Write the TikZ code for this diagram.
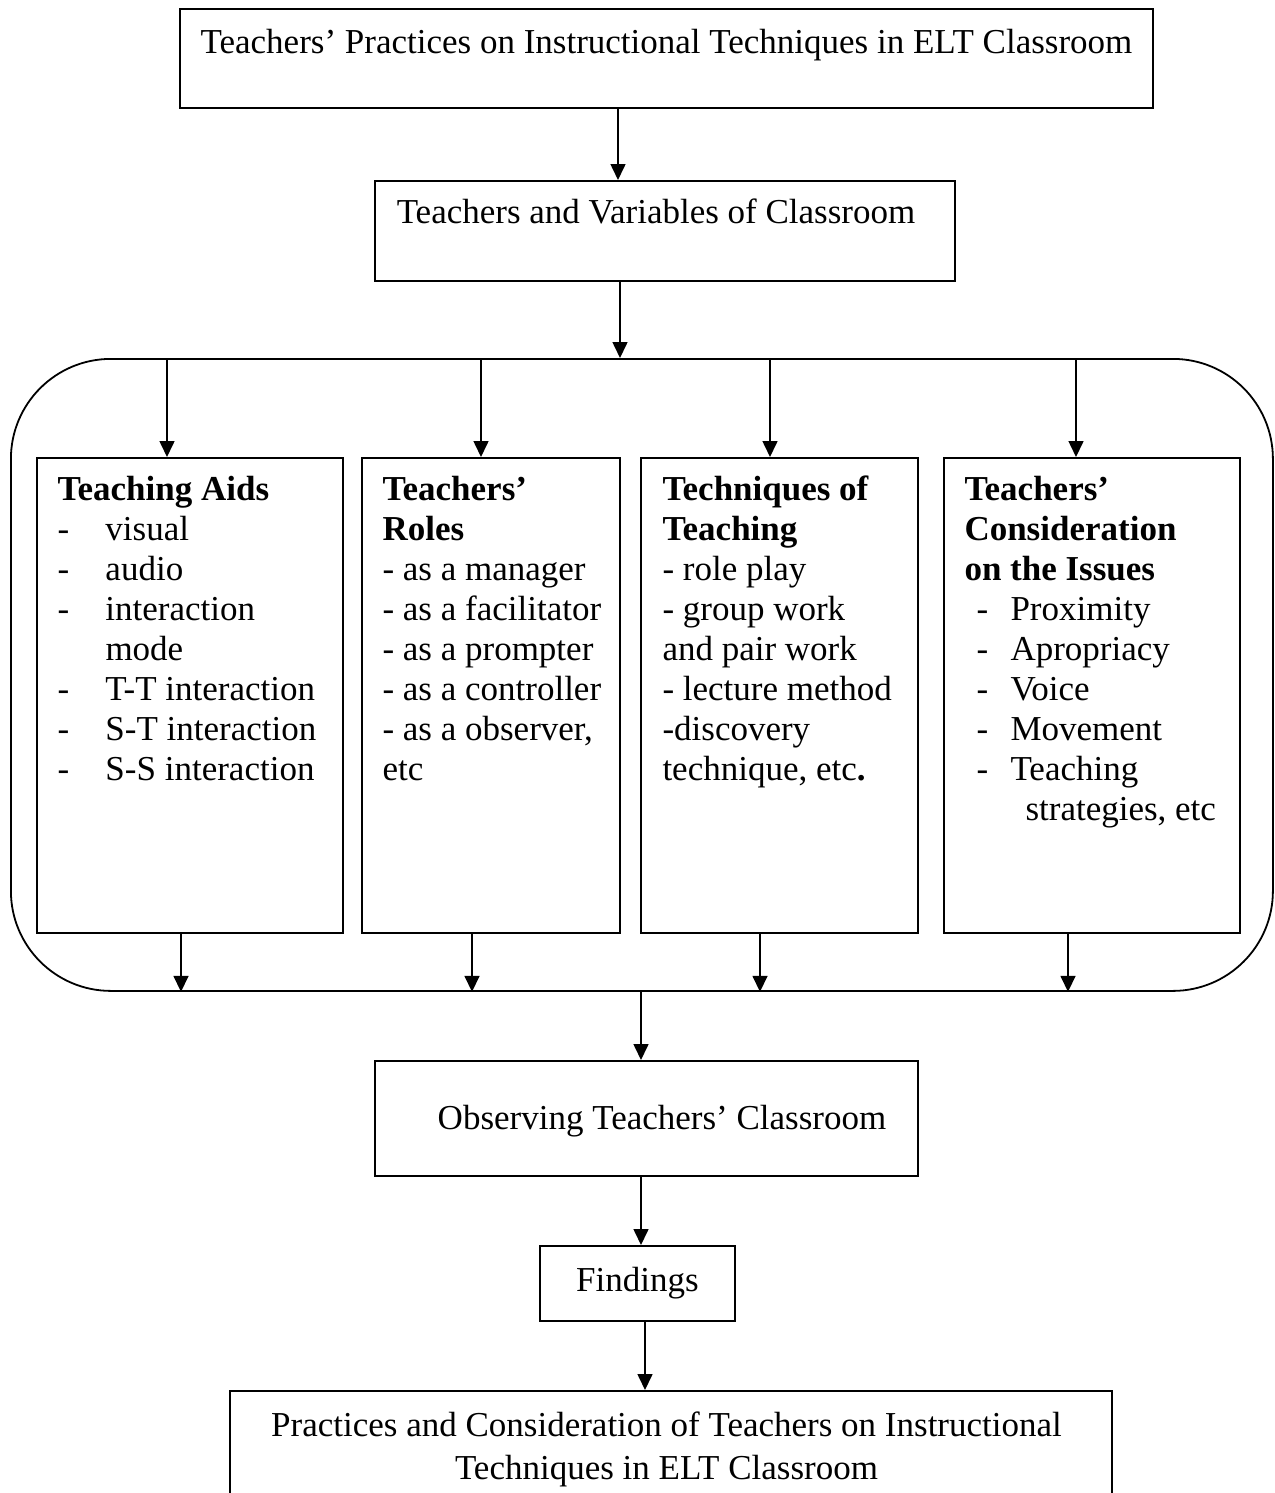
\documentclass[tikz,border=0pt]{standalone}
\usepackage{fontspec}
\setmainfont{Liberation Serif}
\usetikzlibrary{arrows.meta, positioning}
\newcommand{\dashitem}[1]{\makebox[24pt][l]{-}#1}
\newcommand{\hangitem}[1]{\hspace*{24pt}#1}
\newcommand{\issueitem}[1]{\makebox[23pt][l]{\hspace*{6pt}-}#1}

\begin{document}
\begin{tikzpicture}[
    x=0.5pt, y=-0.5pt,
    flowbox/.style={rectangle, draw, line width=0.9pt, inner sep=0pt, font=\fontsize{17.5}{20}\selectfont},
    colbox/.style={rectangle, draw, line width=0.9pt, inner sep=0pt, minimum height=237.5pt, anchor=north},
    coltext/.style={inner sep=0pt, align=left, font=\fontsize{17.5}{20}\selectfont},
    groupbox/.style={rectangle, draw, line width=0.9pt, rounded corners=50pt, inner sep=0pt},
    line/.style={draw, -{Triangle[length=8pt,width=7.5pt]}, line width=0.8pt}
  ]
  \useasboundingbox (0,0) rectangle (1274,1493);

  \node (practice) [flowbox, anchor=north, minimum width=486.5pt, text height=22.5pt, text depth=27pt] at (666.5,8) {Teachers’ Practices on Instructional Techniques in ELT Classroom};
  \node (vars) [flowbox, anchor=north, minimum width=290pt, text height=21.5pt, text depth=28.5pt] at (665,180) {Teachers and Variables of Classroom\hspace*{9pt}};

  % rounded frame round the four columns
  \node (group) [groupbox, anchor=north west, minimum width=631pt, minimum height=316pt] at (10,358) {};

  \node (aids) [colbox, minimum width=153pt] at (190,457) {};
  \node (roles) [colbox, minimum width=129pt] at (491,457) {};
  \node (techs) [colbox, minimum width=138.5pt] at (779.5,457) {};
  \node (issues) [colbox, minimum width=148pt] at (1092,457) {};

  \node (aidstext) [coltext, below right=7.5pt and 10.5pt of aids.north west] {\strut\textbf{Teaching Aids}\\
    \dashitem{visual}\\ \dashitem{audio}\\ \dashitem{interaction}\\ \hangitem{mode}\\
    \dashitem{T-T interaction}\\ \dashitem{S-T interaction}\\ \dashitem{S-S interaction}};
  \node (rolestext) [coltext, below right=7.5pt and 10.5pt of roles.north west] {\strut\textbf{Teachers’}\\ \textbf{Roles}\\
    - as a manager\\ - as a facilitator\\ - as a prompter\\ - as a controller\\ - as a observer,\\ etc};
  \node (techstext) [coltext, below right=7.5pt and 11pt of techs.north west] {\strut\textbf{Techniques of}\\ \textbf{Teaching}\\
    - role play\\ - group work\\ and pair work\\ - lecture method\\ -discovery\\ technique, etc\textbf{.}};
  \node (issuestext) [coltext, below right=7.5pt and 10.5pt of issues.north west] {\strut\textbf{Teachers’}\\ \textbf{Consideration}\\ \textbf{on the Issues}\\
    \issueitem{Proximity}\\ \issueitem{Apropriacy}\\ \issueitem{Voice}\\ \issueitem{Movement}\\ \issueitem{Teaching}\\ \hspace*{30.5pt}strategies, etc};

  \node (observe) [flowbox, anchor=north, minimum width=271.5pt, text height=34.5pt, text depth=23pt] at (646.5,1060) {\hspace*{15.5pt}Observing Teachers’ Classroom};
  \node (findings) [flowbox, anchor=north, minimum width=97.5pt, text height=23pt, text depth=14.5pt] at (637.5,1245) {Findings};
  \node (result) [flowbox, anchor=north, minimum width=441pt, minimum height=56pt] at (671,1390) {};
  \node (resulttext) [coltext, align=center, font=\fontsize{17.5}{21.5}\selectfont, below=10.5pt of result.north, xshift=-2.25pt] {Practices and Consideration of Teachers on Instructional\\ Techniques in ELT Classroom};

  \draw[line] (practice.south -| 618,0) -- (vars.north -| 618,0);
  \draw[line] (vars.south -| 620,0) -- (group.north -| 620,0);

  \draw[line] (group.north -| 167,0) -- (aids.north -| 167,0);
  \draw[line] (group.north -| 481,0) -- (roles.north -| 481,0);
  \draw[line] (group.north -| 770,0) -- (techs.north -| 770,0);
  \draw[line] (group.north -| 1076,0) -- (issues.north -| 1076,0);

  \draw[line] (aids.south -| 181,0) -- (group.south -| 181,0);
  \draw[line] (roles.south -| 472,0) -- (group.south -| 472,0);
  \draw[line] (techs.south -| 760,0) -- (group.south -| 760,0);
  \draw[line] (issues.south -| 1068,0) -- (group.south -| 1068,0);

  \draw[line] (group.south -| 641,0) -- (observe.north -| 641,0);
  \draw[line] (observe.south -| 641,0) -- (findings.north -| 641,0);
  \draw[line] (findings.south -| 645,0) -- (result.north -| 645,0);
\end{tikzpicture}
\end{document}
